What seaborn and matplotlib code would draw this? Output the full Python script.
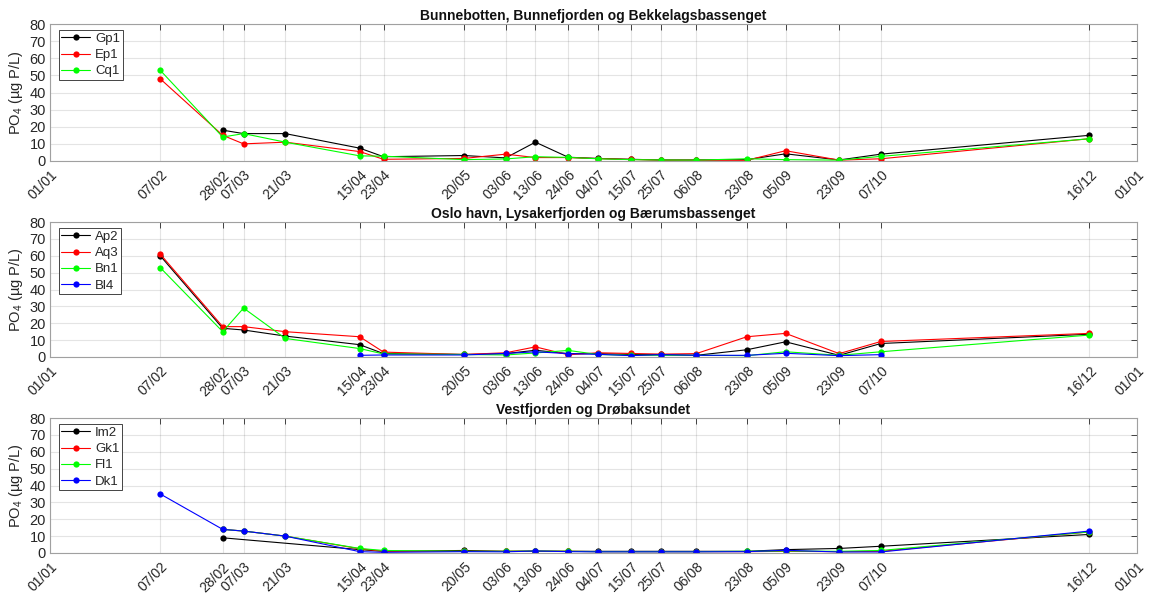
import numpy as np
import pandas as pd
import matplotlib
matplotlib.use("Agg")
import matplotlib.pyplot as plt
import matplotlib.dates as mdates
from matplotlib.lines import Line2D
import seaborn as sns

YEAR = 2021
dates = ["07/02", "28/02", "07/03", "21/03", "15/04", "23/04", "20/05", "03/06", "13/06",
         "24/06", "04/07", "15/07", "25/07", "06/08", "23/08", "05/09", "23/09", "07/10", "16/12"]
nan = np.nan

titles = ["Bunnebotten, Bunnefjorden og Bekkelagsbassenget",
          "Oslo havn, Lysakerfjorden og Bærumsbassenget",
          "Vestfjorden og Drøbaksundet"]

# Panel 1
gp1 = [nan, 18, 16, 16, 7.5, 2.5, 3.2, 1.8, 11, 2.2, 1.5, 1.0, 0.6, 0.6, 0.8, 4.2, 0.6, 4, 15]
ep1 = [48, 15, 10, 11, 5.5, 1, 1.5, 4, 2, 2, 1.4, 0.9, 0.5, 0.5, 0.4, 6, 0.5, 1.3, 13]
cq1 = [53, 14, 16, 11, 3, 2.8, 0.8, 1.2, 2.5, 2.1, 1.3, 0.8, 0.6, 0.5, 1.3, 0.8, 0.5, 2.7, 13]

# Panel 2
ap2 = [60, 17, 16, 12.4, 7.3, 2, 1.5, 2, 4, 2, 2, 1.5, 1.5, 1, 4.3, 9, 1, 8, 13.5]
aq3 = [61, 18, 18, 15, 12, 2.9, 1.5, 2.5, 6, 1.3, 2.5, 2.1, 1.7, 2, 12, 14, 2, 9.2, 14]
bn1 = [53, 15, 29, 11, 5, 1.8, 1.5, 1.2, 2.4, 3.9, 1.5, 1, 1, 1, 0.8, 3.1, 1, 3.1, 13]
bl4 = [nan, nan, nan, nan, 1, 1.2, 1.2, 2.1, 3.1, 2, 1.6, 0.8, 1.4, 1, 1, 2.2, 0.8, 1.4, nan]

# Panel 3
im2 = [nan, 9, nan, nan, 2, 1, 1.5, 1, 1, 1, 1, 1, 1, 1, 1, 2, 2.7, 4, 11]
gk1 = [nan, 14, 13, 10, 2.5, 1, 1, 1, 1.2, 1, 0.8, 0.8, 0.8, 0.8, 0.8, 1, 0.8, 1, 12.5]
fl1 = [nan, 14, 13, 10, 2.7, 1.5, 1, 1, 1.2, 1, 0.8, 0.8, 0.8, 0.8, 1, 1.2, 1, 1.5, 12.5]
dk1 = [35, 14, 13, 10, 0.8, 0.4, 0.8, 0.7, 1.2, 0.8, 0.7, 0.7, 0.7, 0.7, 0.8, 1.6, 0.6, 0.6, 13]

panels = [
    (["Gp1", "Ep1", "Cq1"], [gp1, ep1, cq1], ["#000000", "#FF0000", "#00FF00"]),
    (["Ap2", "Aq3", "Bn1", "Bl4"], [ap2, aq3, bn1, bl4], ["#000000", "#FF0000", "#00FF00", "#0000FF"]),
    (["Im2", "Gk1", "Fl1", "Dk1"], [im2, gk1, fl1, dk1], ["#000000", "#FF0000", "#00FF00", "#0000FF"]),
]

sns.set_style("white")
plt.rcParams["font.family"] = ["Liberation Sans", "DejaVu Sans"]
plt.rcParams["mathtext.fontset"] = "custom"
plt.rcParams["mathtext.rm"] = "Liberation Sans"
plt.rcParams["mathtext.it"] = "Liberation Sans:italic"

dt = pd.to_datetime([f"{d}/{YEAR}" for d in dates], format="%d/%m/%Y")
start = pd.Timestamp(f"{YEAR}-01-01")
end = pd.Timestamp(f"{YEAR + 1}-01-01")
tick_dates = [start] + list(dt) + [end]
tick_labels = ["01/01"] + dates + ["01/01"]

fig = plt.figure(figsize=(11.51, 5.96), dpi=100)
W, H = 1151, 596
boxes = [(24, 161), (222, 357), (418, 553)]
axc = "#262626"

for (names, series, cols), title, (top, bot) in zip(panels, titles, boxes):
    ax = fig.add_axes([50 / W, (H - bot) / H, (1137 - 50) / W, (bot - top) / H])
    rows = []
    for n, vals in zip(names, series):
        for d, v in zip(dt, vals):
            if not np.isnan(v):
                rows.append({"date": d, "value": v, "station": n})
    df = pd.DataFrame(rows)
    sns.lineplot(data=df, x="date", y="value", hue="station", hue_order=names,
                 palette=dict(zip(names, cols)), marker="o", markersize=4.5,
                 markeredgewidth=0, linewidth=0.8, estimator=None, legend=False, ax=ax)
    ax.set_xlim(start, end)
    ax.set_ylim(0, 80)
    ax.set_yticks(range(0, 81, 10))
    ax.set_xticks(mdates.date2num(tick_dates))
    ax.set_xticklabels(tick_labels, rotation=45, ha="right", rotation_mode="anchor")
    ax.tick_params(axis="both", direction="in", length=4, width=0.6, color=axc,
                   labelsize=10.5, labelcolor=axc, top=True, right=True, pad=3)
    ax.tick_params(axis="x", labelsize=10, pad=5)
    ax.grid(True, color=axc, alpha=0.12, linewidth=0.8)
    for s in ax.spines.values():
        s.set_color("#a0a0a0")
        s.set_linewidth(0.8)
    ax.set_xlabel("")
    ax.set_ylabel("PO$_4$ (µg P/L)", fontsize=10.5, color=axc, labelpad=3)
    ax.set_title(title, fontsize=10, fontweight="bold", color="#111111", pad=3)
    handles = [Line2D([0], [0], color=c, marker="o", markersize=4.5, markeredgewidth=0,
                      linewidth=0.8) for c in cols]
    leg = ax.legend(handles, names, loc="upper left", bbox_to_anchor=(0.008, 0.955),
                    fancybox=False, edgecolor=axc, framealpha=1, fontsize=9.5,
                    handlelength=2.2, borderpad=0.2, labelspacing=0.3,
                    handletextpad=0.35, borderaxespad=0.0)
    for t in leg.get_texts():
        t.set_color(axc)
    leg.get_frame().set_linewidth(0.6)

fig.savefig("out.png", dpi=100)
